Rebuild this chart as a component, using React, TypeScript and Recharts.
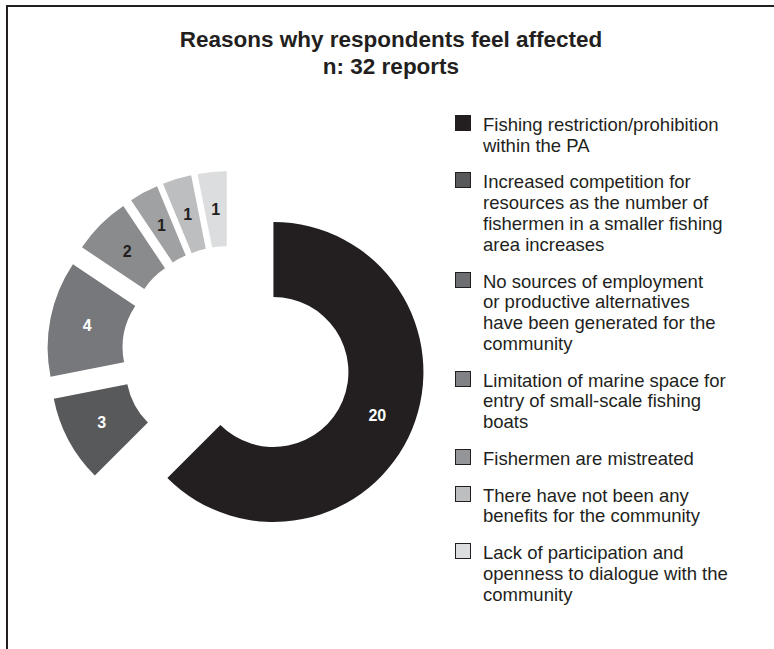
import { Cell, Legend, Pie, PieChart } from "recharts";

// Reasons why respondents feel affected (n: 32 reports)
const categories = [
  "Fishing restriction/prohibition\nwithin the PA",
  "Increased competition for\nresources as the number of\nfishermen in a smaller fishing\narea increases",
  "No sources of employment\nor productive alternatives\nhave been generated for the\ncommunity",
  "Limitation of marine space for\nentry of small-scale fishing\nboats",
  "Fishermen are mistreated",
  "There have not been any\nbenefits for the community",
  "Lack of participation and\nopenness to dialogue with the\ncommunity",
];
const reports = [20, 3, 4, 2, 1, 1, 1];

const sliceColors = ["#231f20", "#58595b", "#77787b", "#8a8b8d", "#a0a1a3", "#bcbec0", "#dcdddf"];
const legendColors = ["#231f20", "#58595b", "#6d6e71", "#808285", "#939598", "#bcbec0", "#dcdddf"];

const FONT = '"Liberation Sans", Arial, Helvetica, sans-serif';
const W = 766;
const H = 642;
const CX = 222;
const CY = 347;
const INNER = 75;
const OUTER = 150;
const EXPLODE_MAIN = 47;
const EXPLODE_REST = 33;
const RADIAN = Math.PI / 180;

const data = categories.map((name, i) => ({ name, value: reports[i] }));

const total = reports.reduce((a, b) => a + b, 0);
let acc = 0;
const midAngles = reports.map((v) => {
  const start = 90 - (acc / total) * 360;
  acc += v;
  const end = 90 - (acc / total) * 360;
  return (start + end) / 2;
});

const isDark = (hex: string) => parseInt(hex.slice(1, 3), 16) < 0x80;

const makeLabel = (slice: number) => (props: any) => {
  if (props.index !== slice) return null;
  const r = (props.innerRadius + props.outerRadius) / 2;
  const x = props.cx + r * Math.cos(-props.midAngle * RADIAN);
  const y = props.cy + r * Math.sin(-props.midAngle * RADIAN);
  return (
    <text
      x={x}
      y={y}
      textAnchor="middle"
      dominantBaseline="central"
      fill={isDark(sliceColors[slice]) ? "#ffffff" : "#231f20"}
      fontSize={16}
      fontWeight="bold"
      fontFamily={FONT}
    >
      {props.value}
    </text>
  );
};

function LegendBox() {
  return (
    <div style={{ display: "flex", flexDirection: "column", gap: 15.9, fontFamily: FONT, fontSize: 18.5, lineHeight: "20.8px", color: "#231f20" }}>
      {categories.map((c, i) => (
        <div key={i} style={{ display: "flex", alignItems: "flex-start" }}>
          <span
            style={{
              width: 14,
              height: 14,
              border: "1px solid #231f20",
              background: legendColors[i],
              flex: "none",
              marginRight: 12,
              marginTop: 0,
            }}
          />
          <span style={{ whiteSpace: "pre-line" }}>{c}</span>
        </div>
      ))}
    </div>
  );
}

export default function App() {
  return (
    <div
      style={{
        position: "absolute",
        top: 5,
        left: 6,
        width: W,
        height: H,
        borderLeft: "2px solid #231f20",
        borderTop: "2px solid #231f20",
        background: "#ffffff",
      }}
    >
      <div
        style={{
          position: "absolute",
          left: 0,
          top: 20,
          width: W,
          textAlign: "center",
          fontFamily: FONT,
          fontWeight: "bold",
          fontSize: 22.5,
          lineHeight: "26.7px",
          color: "#231f20",
        }}
      >
        Reasons why respondents feel affected
        <br />
        n: 32 reports
      </div>
      <PieChart width={W} height={H} margin={{ top: 0, right: 0, bottom: 0, left: 0 }}>
        {reports.map((_, slice) => {
          const e = slice === 0 ? EXPLODE_MAIN : EXPLODE_REST;
          const dx = e * Math.cos(midAngles[slice] * RADIAN);
          const dy = -e * Math.sin(midAngles[slice] * RADIAN);
          return (
            <Pie
              key={slice}
              data={data}
              dataKey="value"
              nameKey="name"
              cx={CX + dx}
              cy={CY + dy}
              innerRadius={INNER}
              outerRadius={OUTER}
              startAngle={90}
              endAngle={-270}
              stroke="none"
              label={makeLabel(slice)}
              labelLine={false}
              isAnimationActive={false}
            >
              {data.map((_, j) => (
                <Cell key={j} fill={j === slice ? sliceColors[j] : "transparent"} stroke="none" />
              ))}
            </Pie>
          );
        })}
        <Legend content={() => <LegendBox />} wrapperStyle={{ left: 447, top: 108, width: 310 }} />
      </PieChart>
    </div>
  );
}
